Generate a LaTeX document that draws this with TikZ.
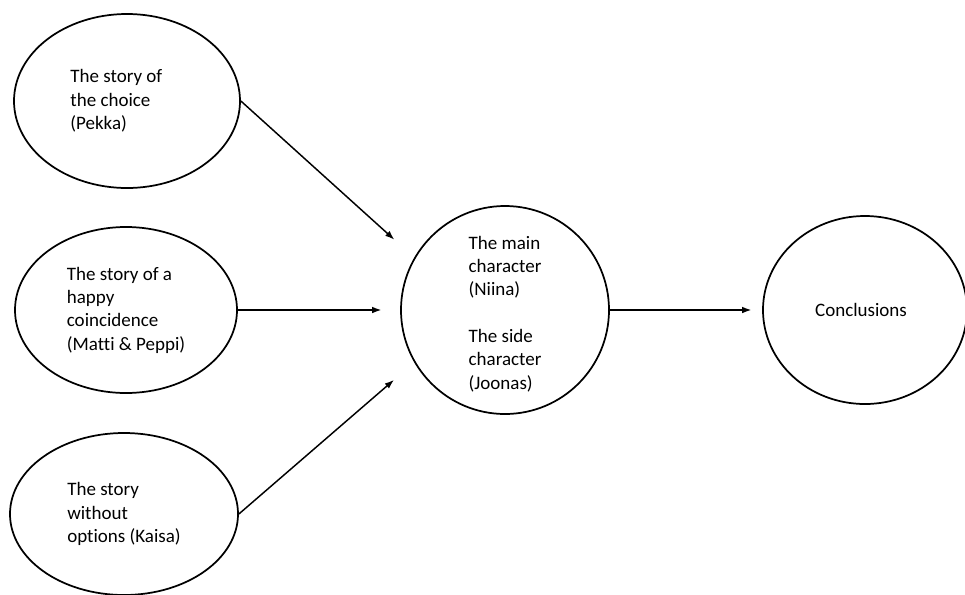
\documentclass[tikz,border=0pt]{standalone}
\usepackage{fontspec}
\setmainfont{Carlito}[Ligatures=NoCommon]
\usetikzlibrary{shapes.geometric}
\usetikzlibrary{arrows.meta}

\tikzset{
  bubble/.style={draw,black,ellipse,line width=1.3pt,inner sep=0pt},
  txt/.style={align=left,inner sep=0pt,font=\fontsize{14.25}{17.5}\selectfont},
  link/.style={black,line width=1.1pt,-{Latex[length=7pt,width=5pt]}}
}

\begin{document}
\begin{tikzpicture}[x=0.75pt,y=-0.75pt]
                    \useasboundingbox (0,0) rectangle (965,594);
                    % the three stories
                    \node[bubble,minimum width=169.5pt,minimum height=130.5pt] (pekka) at (127,101) {};
                    \node[bubble,minimum width=166.5pt,minimum height=124.5pt] (matti) at (126,310) {};
                    \node[bubble,minimum width=171pt,minimum height=121.5pt] (kaisa) at (124,514) {};
                    % main and conclusions
                    \node[bubble,minimum width=156pt,minimum height=156pt] (main) at (505,310) {};
                    \node[bubble,minimum width=153pt,minimum height=141pt] (concl) at (865,310) {};

                    \node[txt,xshift=-8pt] (pekkatxt) at (pekka) {The story of\\the choice\\(Pekka)};
                    \node[txt] (mattitxt) at (matti) {The story of a\\happy\\coincidence\\(Matti \& Peppi)};
                    \node[txt] (kaisatxt) at (kaisa) {The story\\without\\options (Kaisa)};
                    \node[txt,yshift=-3pt] (maintxt) at (main) {The main\\character\\(Niina)\\[17.5pt]The side\\character\\(Joonas)};
                    \node[txt,xshift=-3pt] (concltxt) at (concl) {Conclusions};

                    \draw[link,shorten >=20pt] (pekka.east) -- (main.150);
                    \draw[link,shorten >=14pt] (matti.east) -- (main.west);
                    \draw[link,shorten >=20pt] (kaisa.east) -- (main.210);
                    \draw[link,shorten >=8pt] (main.east) -- (concl.west);
                \end{tikzpicture}
\end{document}
